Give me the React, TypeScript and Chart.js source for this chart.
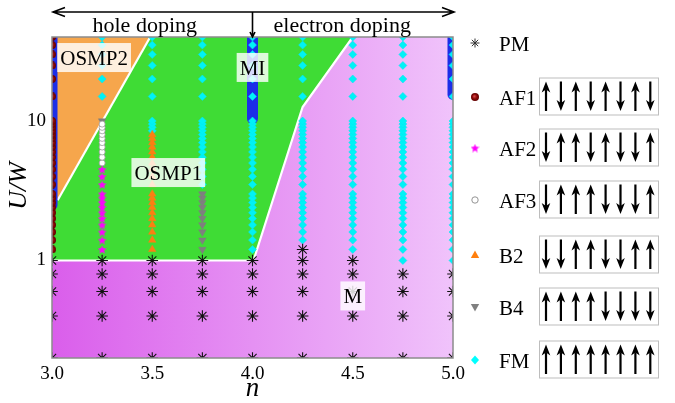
import React, { useEffect, useRef } from 'react';
import { Chart, registerables } from 'chart.js';

Chart.register(...registerables);

// ---------- data ----------
const N_MIN = 3.0;
const N_MAX = 5.0;
const U_MIN = 0.2;
const U_MAX = 40;
const U_TICKS = [1, 10];

const U_HIGH = [15, 20, 25, 30, 35, 40];
const U_MID = [3.5, 4, 4.5, 5, 5.5, 6, 6.5, 7, 7.5, 8, 8.5, 9, 9.5, 10];
const U_FINE = [1.2, 1.4, 1.6, 1.8, 2.0, 2.2, 2.4, 2.6, 2.8, 3.0];
const U_LOW = [0.2, 0.4, 0.6, 0.8, 1.0];

type Col = [number, number[]];

const PM_COLUMNS: Col[] = [
  [3.0, U_LOW], [3.25, U_LOW], [3.5, U_LOW], [3.75, U_LOW], [4.0, U_LOW],
  [4.25, [0.2, 0.4, 0.6, 0.8, 1.0, 1.2]],
  [4.5, U_LOW],
  [4.75, [0.2, 0.4, 0.6, 0.8]],
  [5.0, [0.2, 0.4, 0.6, 0.8]],
];
const AF1_COLUMNS: Col[] = [[3.0, [...U_FINE, ...U_MID, ...U_HIGH]]];
const AF2_COLUMNS: Col[] = [[3.25, [1.2, 1.4, 1.6, 1.8, 2.0, 2.2, 2.4, 2.6, 2.8, 3.0, 3.5, 4.0, 4.5]]];
const AF3_COLUMNS: Col[] = [[3.25, [5.0, 5.5, 6.0, 6.5, 7.0, 7.5, 8.0, 8.5, 9.0, 9.5]]];
const B2_COLUMNS: Col[] = [[3.5, [1.2, 1.4, 1.6, 1.8, 2.0, 2.2, 2.4, 2.6, 2.8, 3.0, 3.5, 4.0, 4.5, 5.0, 5.5, 6.0, 6.5, 7.0, 7.5, 8.0]]];
const B4_COLUMNS: Col[] = [[3.25, [10]], [3.75, U_FINE]];
const FM_COLUMNS: Col[] = [
  [3.25, U_HIGH],
  [3.5, [8.5, 9, 9.5, 10, ...U_HIGH]],
  [3.75, [...U_MID, ...U_HIGH]],
  [4.0, [...U_FINE, ...U_MID, ...U_HIGH]],
  [4.25, [1.4, 1.6, 1.8, 2.0, 2.2, 2.4, 2.6, 2.8, 3.0, ...U_MID, ...U_HIGH]],
  [4.5, [...U_FINE, ...U_MID, ...U_HIGH]],
  [4.75, [1.0, ...U_FINE, ...U_MID, ...U_HIGH]],
  [5.0, [1.0, ...U_FINE, ...U_MID, ...U_HIGH]],
];

// phase regions (n, U/W)
const REGION_M: [number, number][] = [[3.0, 0.2], [5.0, 0.2], [5.0, 40], [3.0, 40]];
const REGION_OSMP1: [number, number][] = [[3.0, 1.0], [4.005, 1.0], [4.25, 12.6], [4.5, 40], [3.49, 40], [3.028, 2.7], [3.0, 2.5]];
const REGION_OSMP2: [number, number][] = [[3.0, 2.5], [3.028, 2.7], [3.49, 40], [3.0, 40]];
const BOUNDARY_OSMP2: [number, number][] = [[3.028, 2.7], [3.49, 40]];
const BOUNDARY_M: [number, number][] = [[3.0, 1.0], [4.005, 1.0], [4.25, 12.6], [4.5, 40]];
const MI_BANDS: [number, number, number][] = [[3.0, 2.5, 40], [4.0, 10.4, 40], [5.0, 15.5, 40]];

const PHASE_LABELS = ['OSMP2', 'OSMP1', 'MI', 'M'];
const PHASE_LABEL_N = [3.21, 3.58, 4.0, 4.5];
const PHASE_LABEL_U = [28.5, 4.27, 24.2, 0.557];

const LEGEND_NAMES = ['PM', 'AF1', 'AF2', 'AF3', 'B2', 'B4', 'FM'];
const SPIN_PATTERNS = ['', 'udududud', 'duududdu', 'duuudddu', 'dduudduu', 'uuuudddd', 'uuuuuuuu'];

const DOPING_LABELS = ['hole doping', 'electron doping'];

// ---------- helpers ----------
const SERIF = '"Liberation Serif", "Times New Roman", serif';

const toPoints = (cols: Col[]) => cols.flatMap(([n, us]) => us.map((u) => ({ x: n, y: u })));
const toXY = (pts: [number, number][]) => pts.map(([x, y]) => ({ x, y }));

function makeStar(size: number, color: string) {
  const c = document.createElement('canvas');
  c.width = size; c.height = size;
  const g = c.getContext('2d')!;
  const cx = size / 2, cy = size / 2 + 0.5, R = size / 2, r = R * 0.45;
  g.beginPath();
  for (let i = 0; i < 10; i++) {
    const ang = -Math.PI / 2 + (i * Math.PI) / 5;
    const rad = i % 2 === 0 ? R : r;
    g.lineTo(cx + rad * Math.cos(ang), cy + rad * Math.sin(ang));
  }
  g.closePath();
  g.fillStyle = color;
  g.fill();
  return c;
}

function makeBall(size: number) {
  const c = document.createElement('canvas');
  c.width = size; c.height = size;
  const g = c.getContext('2d')!;
  const grad = g.createRadialGradient(size * 0.4, size * 0.4, 0.2, size / 2, size / 2, size / 2);
  grad.addColorStop(0, '#d84848');
  grad.addColorStop(0.55, '#8a0808');
  grad.addColorStop(1, '#600000');
  g.beginPath();
  g.arc(size / 2, size / 2, size / 2, 0, Math.PI * 2);
  g.fillStyle = grad;
  g.fill();
  return c;
}

function drawSpin(ctx: CanvasRenderingContext2D, x: number, yTop: number, yBot: number, up: boolean) {
  const tipY = up ? yTop : yBot;
  const tailY = up ? yBot : yTop;
  const dir = up ? 1 : -1;
  const headLen = 11, hw = 4.3;
  ctx.lineWidth = 2.2;
  ctx.beginPath();
  ctx.moveTo(x, tailY);
  ctx.lineTo(x, tipY + dir * headLen * 0.7);
  ctx.stroke();
  ctx.beginPath();
  ctx.moveTo(x, tipY);
  ctx.lineTo(x - hw, tipY + dir * headLen);
  ctx.lineTo(x, tipY + dir * headLen * 0.72);
  ctx.lineTo(x + hw, tipY + dir * headLen);
  ctx.closePath();
  ctx.fill();
}

function legendMarker(ctx: CanvasRenderingContext2D, i: number, x: number, y: number, star: HTMLCanvasElement, ball: HTMLCanvasElement) {
  ctx.save();
  switch (i) {
    case 0: {
      ctx.strokeStyle = '#333'; ctx.lineWidth = 1;
      const r = 4.5;
      ctx.beginPath();
      for (let k = 0; k < 4; k++) {
        const a = (k * Math.PI) / 4;
        ctx.moveTo(x - r * Math.cos(a), y - r * Math.sin(a));
        ctx.lineTo(x + r * Math.cos(a), y + r * Math.sin(a));
      }
      ctx.stroke();
      break;
    }
    case 1: ctx.drawImage(ball, x - 4, y - 4, 8, 8); break;
    case 2: ctx.drawImage(star, x - 4.5, y - 4.5, 9, 9); break;
    case 3:
      ctx.beginPath(); ctx.arc(x, y, 3.2, 0, Math.PI * 2);
      ctx.fillStyle = '#fff'; ctx.fill(); ctx.strokeStyle = '#888'; ctx.lineWidth = 0.9; ctx.stroke();
      break;
    case 4:
      ctx.beginPath(); ctx.moveTo(x, y - 4.5); ctx.lineTo(x + 4.2, y + 3); ctx.lineTo(x - 4.2, y + 3); ctx.closePath();
      ctx.fillStyle = '#ff7f0e'; ctx.fill();
      break;
    case 5:
      ctx.beginPath(); ctx.moveTo(x, y + 4.5); ctx.lineTo(x + 4.2, y - 3); ctx.lineTo(x - 4.2, y - 3); ctx.closePath();
      ctx.fillStyle = '#808080'; ctx.fill();
      break;
    case 6:
      ctx.beginPath(); ctx.moveTo(x, y - 4.5); ctx.lineTo(x + 4, y); ctx.lineTo(x, y + 4.5); ctx.lineTo(x - 4, y); ctx.closePath();
      ctx.fillStyle = '#00ffff'; ctx.fill();
      break;
  }
  ctx.restore();
}

export default function App() {
  const ref = useRef<HTMLCanvasElement>(null);

  useEffect(() => {
    const canvas = ref.current!;
    const starImg = makeStar(9, '#ff00ff');
    const ballImg = makeBall(8);

    const overlay = {
      id: 'overlay',
      afterDatasetsDraw(chart: any) {
        const { ctx, chartArea: a, scales } = chart;
        const xs = scales.x, ys = scales.y;
        ctx.save();
        ctx.strokeStyle = '#8c8c8c';
        ctx.lineWidth = 1.5;
        ctx.strokeRect(a.left, a.top, a.right - a.left, a.bottom - a.top);
        ctx.font = `21px ${SERIF}`;
        ctx.textAlign = 'center';
        ctx.textBaseline = 'alphabetic';
        PHASE_LABELS.forEach((t, i) => {
          const px = xs.getPixelForValue(PHASE_LABEL_N[i]);
          const py = ys.getPixelForValue(PHASE_LABEL_U[i]);
          const w = ctx.measureText(t).width + 6;
          const h = 29;
          ctx.fillStyle = 'rgba(255,255,255,0.82)';
          ctx.fillRect(px - w / 2, py - h / 2, w, h);
          ctx.fillStyle = '#000';
          ctx.fillText(t, px, py + 7.5);
        });
        ctx.restore();
      },
      afterDraw(chart: any) {
        const { ctx, chartArea: a, scales } = chart;
        const xs = scales.x;
        ctx.save();
        // top doping arrow
        const yA = 12;
        const xL = a.left + 1, xR = a.right + 1;
        ctx.strokeStyle = '#000';
        ctx.fillStyle = '#000';
        ctx.lineWidth = 1.6;
        ctx.beginPath();
        ctx.moveTo(xL, yA); ctx.lineTo(xR, yA);
        ctx.moveTo(xL + 12, yA - 4.5); ctx.lineTo(xL, yA); ctx.lineTo(xL + 12, yA + 4.5);
        ctx.moveTo(xR - 12, yA - 4.5); ctx.lineTo(xR, yA); ctx.lineTo(xR - 12, yA + 4.5);
        const xMid = xs.getPixelForValue(4.0);
        ctx.moveTo(xMid, yA); ctx.lineTo(xMid, a.top);
        ctx.moveTo(xMid - 2.5, a.top - 5); ctx.lineTo(xMid, a.top); ctx.lineTo(xMid + 2.5, a.top - 5);
        ctx.stroke();
        ctx.font = `22px ${SERIF}`;
        ctx.textAlign = 'center';
        ctx.textBaseline = 'alphabetic';
        ctx.fillText(DOPING_LABELS[0], (xL + xMid) / 2 - 8, 32);
        ctx.fillText(DOPING_LABELS[1], (xMid + xR) / 2 - 11, 32);

        // axis titles
        ctx.font = `italic 27px ${SERIF}`;
        ctx.fillText('n', (a.left + a.right) / 2, 396);
        ctx.save();
        ctx.translate(26, 186);
        ctx.rotate(-Math.PI / 2);
        ctx.font = `italic 26px ${SERIF}`;
        ctx.fillText('U/W', 0, 0);
        ctx.restore();

        // legend
        const baselines = [51, 105, 156, 208, 263, 315, 368];
        ctx.font = `21px ${SERIF}`;
        ctx.textAlign = 'left';
        LEGEND_NAMES.forEach((name, i) => {
          const bl = baselines[i];
          legendMarker(ctx, i, 475, bl - 8, starImg, ballImg);
          ctx.fillStyle = '#000';
          ctx.fillText(name, 499, bl);
          const pat = SPIN_PATTERNS[i];
          if (pat) {
            const bx = 539, bw = 119, bh = 37;
            const by = bl - 9 - bh / 2;
            ctx.strokeStyle = '#bdbdbd';
            ctx.lineWidth = 1;
            ctx.strokeRect(bx + 0.5, by + 0.5, bw, bh);
            ctx.strokeStyle = '#000';
            ctx.fillStyle = '#000';
            for (let k = 0; k < pat.length; k++) {
              drawSpin(ctx, 546 + 14.9 * k, by + 4, by + bh - 3.5, pat[k] === 'u');
            }
          }
        });
        ctx.restore();
      },
    };

    const mGradient = (c: any) => {
      const area = c.chart.chartArea;
      if (!area) return '#e596f2';
      const g = c.chart.ctx.createLinearGradient(area.left, 0, area.right, 0);
      g.addColorStop(0, '#da5eeb');
      g.addColorStop(1, '#f0c3fb');
      return g;
    };

    const region = (pts: [number, number][], color: any, order: number) => ({
      type: 'line',
      data: toXY(pts),
      backgroundColor: color,
      borderColor: 'rgba(0,0,0,0)',
      borderWidth: 0,
      pointRadius: 0,
      fill: 'shape',
      tension: 0,
      order,
      clip: 0,
    });

    const boundary = (pts: [number, number][]) => ({
      type: 'line',
      data: toXY(pts),
      borderColor: '#ffffff',
      borderWidth: 2.2,
      pointRadius: 0,
      fill: false,
      tension: 0,
      order: 80,
      clip: 0,
    });

    const bands = MI_BANDS.map(([n, u0, u1]) => ({
      type: 'line',
      data: [{ x: n, y: u0 }, { x: n, y: u1 }],
      borderColor: '#1c2ee8',
      borderWidth: 11,
      borderCapStyle: 'round',
      pointRadius: 0,
      fill: false,
      order: 70,
      clip: 0,
    }));

    const marker = (cols: Col[], opts: any, order: number) => ({
      type: 'scatter',
      data: toPoints(cols),
      showLine: false,
      clip: 0,
      order,
      ...opts,
    });

    const chart = new Chart(canvas, {
      type: 'scatter',
      data: {
        datasets: [
          region(REGION_M, mGradient, 100),
          region(REGION_OSMP1, '#3fdc35', 90),
          region(REGION_OSMP2, '#f6a64c', 90),
          boundary(BOUNDARY_OSMP2),
          boundary(BOUNDARY_M),
          ...bands,
          marker(FM_COLUMNS, { pointStyle: 'rectRot', pointRadius: 4, backgroundColor: '#00f2f6', borderColor: '#00e6f0', borderWidth: 0.5 }, 10),
          marker(PM_COLUMNS, { pointStyle: 'star', pointRadius: 5.8, borderColor: '#111', borderWidth: 1.1, backgroundColor: '#111' }, 6),
          marker(AF1_COLUMNS, { pointStyle: ballImg, pointRadius: 4 }, 5),
          marker(AF2_COLUMNS, { pointStyle: starImg, pointRadius: 4.5 }, 5),
          marker(AF3_COLUMNS, { pointStyle: 'circle', pointRadius: 3, backgroundColor: '#fff', borderColor: '#9a9a9a', borderWidth: 0.8 }, 5),
          marker(B2_COLUMNS, { pointStyle: 'triangle', pointRadius: 4.3, backgroundColor: '#fb7f12', borderColor: '#fb7f12', borderWidth: 0.5 }, 5),
          marker(B4_COLUMNS, { pointStyle: 'triangle', rotation: 180, pointRadius: 4.3, backgroundColor: '#7f7f7f', borderColor: '#7f7f7f', borderWidth: 0.5 }, 5),
        ] as any,
      },
      options: {
        responsive: false,
        animation: false,
        devicePixelRatio: 1,
        events: [],
        layout: { padding: { left: 0, top: 37, right: 222, bottom: 0 } },
        plugins: { legend: { display: false }, tooltip: { enabled: false } },
        scales: {
          x: {
            type: 'linear',
            min: N_MIN,
            max: N_MAX,
            afterFit: (s: any) => { s.height = 45; },
            grid: { display: false, drawTicks: false },
            border: { display: false },
            ticks: {
              stepSize: 0.5,
              autoSkip: false,
              maxRotation: 0,
              padding: 5,
              color: '#000',
              font: { family: SERIF, size: 19 },
              callback: (v: any) => Number(v).toFixed(1),
            },
          },
          y: {
            type: 'logarithmic',
            min: U_MIN,
            max: U_MAX,
            afterFit: (s: any) => { s.width = 52; },
            afterBuildTicks: (s: any) => { s.ticks = U_TICKS.map((v) => ({ value: v })); },
            grid: { display: false, drawTicks: false },
            border: { display: false },
            ticks: {
              padding: 6,
              color: '#000',
              font: { family: SERIF, size: 19 },
              callback: (v: any) => String(v),
            },
          },
        },
      } as any,
      plugins: [overlay],
    });
    return () => chart.destroy();
  }, []);

  return (
    <div style={{ position: 'absolute', left: 0, top: 0, width: 675, height: 403, background: '#fff' }}>
      <canvas ref={ref} width={675} height={403} style={{ display: 'block', width: 675, height: 403 }} />
    </div>
  );
}
